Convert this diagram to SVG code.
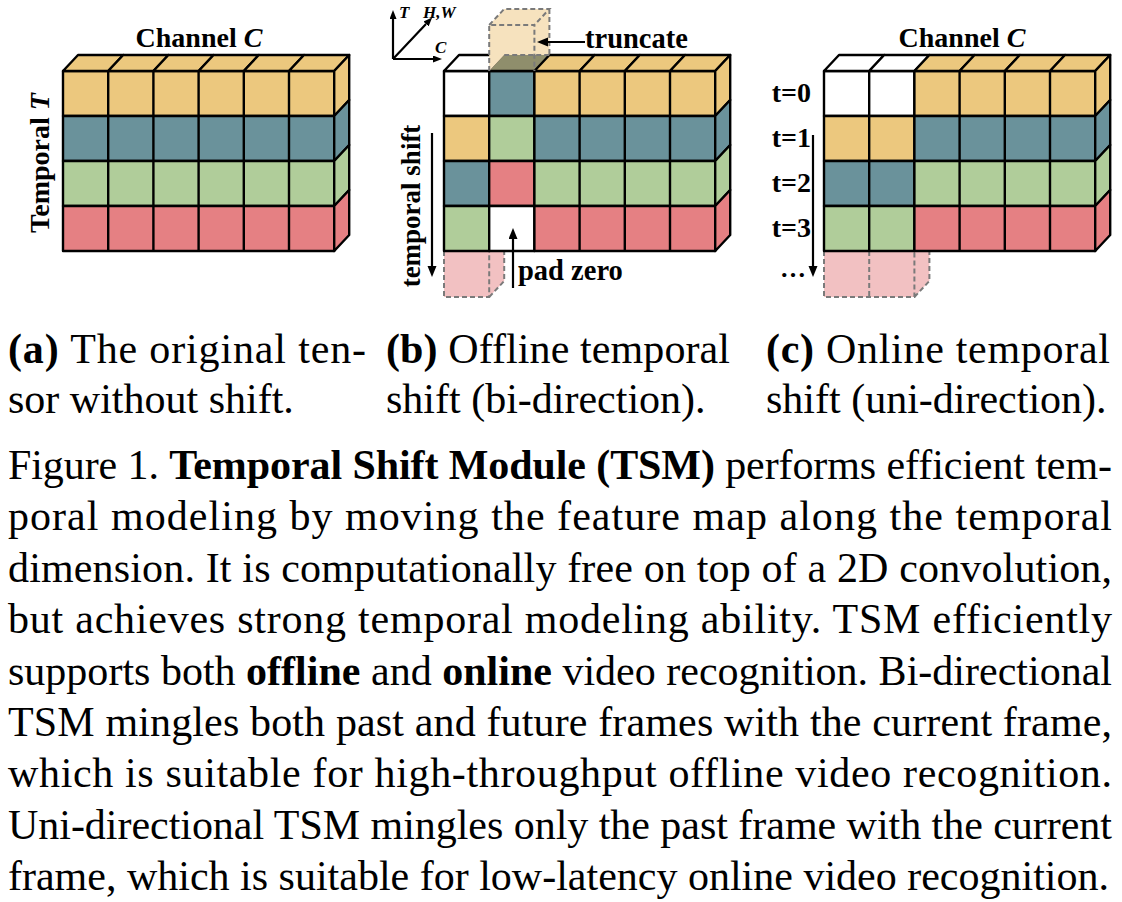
<svg xmlns="http://www.w3.org/2000/svg" width="1122" height="902" viewBox="0 0 1122 902">
<style>
.e{stroke:#000;stroke-width:2.4;stroke-linejoin:round}
.y{fill:#ECC87E}.tl{fill:#6A929B}.g{fill:#B0CD9A}.r{fill:#E58083}.w{fill:#fff}
.gl{fill:none;stroke:#000;stroke-width:2.4}
.d{fill:none;stroke:#7a7a7a;stroke-width:2;stroke-dasharray:5 3}
.pk{fill:#F2C1C2}
.ly{fill:#F6E2BE}
.ol{fill:#8F8E6C}
.lbl{font-family:"Liberation Serif","Times New Roman",serif;font-weight:bold;fill:#000}
.cap{font-family:"Liberation Serif","Times New Roman",serif;font-size:42px;fill:#000}
.ar{stroke:#000;stroke-width:2.2;fill:none}
</style>
<defs>
<marker id="ah" markerUnits="userSpaceOnUse" markerWidth="12" markerHeight="10" refX="0" refY="4.5" orient="auto">
<path d="M0,0 L11,4.5 L0,9 z" fill="#000"/>
</marker>
<marker id="ahs" markerUnits="userSpaceOnUse" markerWidth="10" markerHeight="8" refX="0" refY="3.5" orient="auto">
<path d="M0,0 L9,3.5 L0,7 z" fill="#000"/>
</marker>
</defs>

<g id="panel-a" transform="translate(63,71)">
<g id="a-front">
<rect class="e y" x="0" y="0" width="271.2" height="45"/>
<rect class="e tl" x="0" y="45" width="271.2" height="45"/>
<rect class="e g" x="0" y="90" width="271.2" height="45"/>
<rect class="e r" x="0" y="135" width="271.2" height="45"/>
<path class="gl" d="M45.2,0V180M90.4,0V180M135.6,0V180M180.8,0V180M226,0V180"/>
</g>
<g id="a-top">
<polygon class="e y" points="0,0 15,-16 60.2,-16 45.2,0"/>
<polygon class="e y" points="45.2,0 60.2,-16 105.4,-16 90.4,0"/>
<polygon class="e y" points="90.4,0 105.4,-16 150.6,-16 135.6,0"/>
<polygon class="e y" points="135.6,0 150.6,-16 195.8,-16 180.8,0"/>
<polygon class="e y" points="180.8,0 195.8,-16 241,-16 226,0"/>
<polygon class="e y" points="226,0 241,-16 286.2,-16 271.2,0"/>
</g>
<g id="a-side">
<polygon class="e y" points="271.2,0 286.2,-16 286.2,29 271.2,45"/>
<polygon class="e tl" points="271.2,45 286.2,29 286.2,74 271.2,90"/>
<polygon class="e g" points="271.2,90 286.2,74 286.2,119 271.2,135"/>
<polygon class="e r" points="271.2,135 286.2,119 286.2,164 271.2,180"/>
</g>
</g>
<g id="label-a">
<text class="lbl" x="199" y="47" font-size="28" text-anchor="middle">Channel <tspan font-style="italic">C</tspan></text>
<text class="lbl" font-size="28" text-anchor="middle" transform="translate(49,163) rotate(-90)">Temporal <tspan font-style="italic">T</tspan></text>
</g>

<g id="panel-b" transform="translate(444,71)">
<g id="b-pad">
<polygon class="pk" points="0,180 60.2,180 60.2,210 45.2,226 0,226"/>
<path class="d" d="M0,180V226H45.2V180M45.2,226L60.2,210V180"/>
</g>
<g id="b-front">
<rect class="e w" x="0" y="0" width="45.2" height="45"/>
<rect class="e tl" x="45.2" y="0" width="45.2" height="45"/>
<rect class="e y" x="90.4" y="0" width="180.8" height="45"/>
<rect class="e y" x="0" y="45" width="45.2" height="45"/>
<rect class="e g" x="45.2" y="45" width="45.2" height="45"/>
<rect class="e tl" x="90.4" y="45" width="180.8" height="45"/>
<rect class="e tl" x="0" y="90" width="45.2" height="45"/>
<rect class="e r" x="45.2" y="90" width="45.2" height="45"/>
<rect class="e g" x="90.4" y="90" width="180.8" height="45"/>
<rect class="e g" x="0" y="135" width="45.2" height="45"/>
<rect class="e w" x="45.2" y="135" width="45.2" height="45"/>
<rect class="e r" x="90.4" y="135" width="180.8" height="45"/>
<path class="gl" d="M135.6,0V180M180.8,0V180M226,0V180"/>
</g>
<g id="b-top">
<polygon class="e w" points="0,0 15,-16 60.2,-16 45.2,0"/>
<polygon class="ol" points="45.2,0 60.2,-16 105.4,-16 90.4,0"/>
<polygon class="e y" points="90.4,0 105.4,-16 150.6,-16 135.6,0"/>
<polygon class="e y" points="135.6,0 150.6,-16 195.8,-16 180.8,0"/>
<polygon class="e y" points="180.8,0 195.8,-16 241,-16 226,0"/>
<polygon class="e y" points="226,0 241,-16 286.2,-16 271.2,0"/>
<path class="gl" d="M45.2,0H90.4"/>
</g>
<g id="b-side">
<polygon class="e y" points="271.2,0 286.2,-16 286.2,29 271.2,45"/>
<polygon class="e tl" points="271.2,45 286.2,29 286.2,74 271.2,90"/>
<polygon class="e g" points="271.2,90 286.2,74 286.2,119 271.2,135"/>
<polygon class="e r" points="271.2,135 286.2,119 286.2,164 271.2,180"/>
</g>
<g id="b-truncate">
<polygon class="ly" points="45.2,0 45.2,-46 60.2,-62 105.4,-62 105.4,-16 60.2,-16 45.2,0"/>
<path class="d" d="M45.2,0V-46H90.4V0M45.2,-46L60.2,-62H105.4L90.4,-46M105.4,-62V-16M60.2,-16H105.4"/>
</g>
</g>
<g id="label-b">
<text class="lbl" x="399" y="18" font-size="17" font-style="italic">T</text>
<text class="lbl" x="423" y="18" font-size="17" font-style="italic">H,W</text>
<text class="lbl" x="435" y="53" font-size="17" font-style="italic">C</text>
<text class="lbl" x="585" y="48" font-size="28.5">truncate</text>
<text class="lbl" font-size="27" text-anchor="middle" transform="translate(420,206) rotate(-90)">temporal shift</text>
<text class="lbl" x="518" y="280" font-size="28.5">pad zero</text>
</g>

<g id="panel-c" transform="translate(824,71)">
<g id="c-pad">
<polygon class="pk" points="0,180 105.4,180 105.4,210 90.4,226 0,226"/>
<path class="d" d="M0,180V226H90.4V180M45.2,180V226M90.4,226L105.4,210V180"/>
</g>
<g id="c-front">
<rect class="e w" x="0" y="0" width="90.4" height="45"/>
<rect class="e y" x="90.4" y="0" width="180.8" height="45"/>
<rect class="e y" x="0" y="45" width="90.4" height="45"/>
<rect class="e tl" x="90.4" y="45" width="180.8" height="45"/>
<rect class="e tl" x="0" y="90" width="90.4" height="45"/>
<rect class="e g" x="90.4" y="90" width="180.8" height="45"/>
<rect class="e g" x="0" y="135" width="90.4" height="45"/>
<rect class="e r" x="90.4" y="135" width="180.8" height="45"/>
<path class="gl" d="M45.2,0V180M135.6,0V180M180.8,0V180M226,0V180"/>
</g>
<g id="c-top">
<polygon class="e w" points="0,0 15,-16 60.2,-16 45.2,0"/>
<polygon class="e w" points="45.2,0 60.2,-16 105.4,-16 90.4,0"/>
<polygon class="e y" points="90.4,0 105.4,-16 150.6,-16 135.6,0"/>
<polygon class="e y" points="135.6,0 150.6,-16 195.8,-16 180.8,0"/>
<polygon class="e y" points="180.8,0 195.8,-16 241,-16 226,0"/>
<polygon class="e y" points="226,0 241,-16 286.2,-16 271.2,0"/>
</g>
<g id="c-side">
<polygon class="e y" points="271.2,0 286.2,-16 286.2,29 271.2,45"/>
<polygon class="e tl" points="271.2,45 286.2,29 286.2,74 271.2,90"/>
<polygon class="e g" points="271.2,90 286.2,74 286.2,119 271.2,135"/>
<polygon class="e r" points="271.2,135 286.2,119 286.2,164 271.2,180"/>
</g>
</g>
<g id="label-c">
<text class="lbl" x="962" y="47" font-size="28" text-anchor="middle">Channel <tspan font-style="italic">C</tspan></text>
<text class="lbl" x="811" y="102" font-size="28" text-anchor="end">t=0</text>
<text class="lbl" x="811" y="147" font-size="28" text-anchor="end">t=1</text>
<text class="lbl" x="811" y="192" font-size="28" text-anchor="end">t=2</text>
<text class="lbl" x="811" y="237" font-size="28" text-anchor="end">t=3</text>
<text class="lbl" x="780" y="277" font-size="26" font-weight="normal">…</text>
</g>

<g id="connectors">
<line class="ar" x1="393" y1="59" x2="393" y2="19" marker-end="url(#ahs)"/>
<line class="ar" x1="393" y1="59" x2="433" y2="59" marker-end="url(#ahs)"/>
<line class="ar" x1="393" y1="59" x2="426" y2="24" marker-end="url(#ahs)"/>
<line class="ar" x1="585" y1="42" x2="548" y2="42" marker-end="url(#ah)"/>
<line class="ar" x1="432" y1="133" x2="432" y2="266" marker-end="url(#ah)"/>
<line class="ar" x1="513" y1="288" x2="513" y2="239" marker-end="url(#ah)"/>
<line class="ar" x1="813" y1="135" x2="813" y2="266" marker-end="url(#ah)"/>
</g>

<g id="subcaptions">
<text class="cap" x="8" y="363" textLength="358" lengthAdjust="spacing"><tspan font-weight="bold">(a)</tspan> The original ten-</text>
<text class="cap" x="8" y="413">sor without shift.</text>
<text class="cap" x="386" y="363" textLength="344" lengthAdjust="spacing"><tspan font-weight="bold">(b)</tspan> Offline temporal</text>
<text class="cap" x="386" y="413">shift (bi-direction).</text>
<text class="cap" x="766" y="363" textLength="344" lengthAdjust="spacing"><tspan font-weight="bold">(c)</tspan> Online temporal</text>
<text class="cap" x="766" y="413">shift (uni-direction).</text>
</g>

<g id="caption">
<text class="cap" x="8" y="479" textLength="1104" lengthAdjust="spacing">Figure 1. <tspan font-weight="bold">Temporal Shift Module (TSM)</tspan> performs efficient tem-</text>
<text class="cap" x="8" y="530" textLength="1104" lengthAdjust="spacing">poral modeling by moving the feature map along the temporal</text>
<text class="cap" x="8" y="581.5" textLength="1104" lengthAdjust="spacing">dimension. It is computationally free on top of a 2D convolution,</text>
<text class="cap" x="8" y="633" textLength="1104" lengthAdjust="spacing">but achieves strong temporal modeling ability. TSM efficiently</text>
<text class="cap" x="8" y="684.5" textLength="1104" lengthAdjust="spacing">supports both <tspan font-weight="bold">offline</tspan> and <tspan font-weight="bold">online</tspan> video recognition. Bi-directional</text>
<text class="cap" x="8" y="736" textLength="1104" lengthAdjust="spacing">TSM mingles both past and future frames with the current frame,</text>
<text class="cap" x="8" y="787" textLength="1104" lengthAdjust="spacing">which is suitable for high-throughput offline video recognition.</text>
<text class="cap" x="8" y="838.5" textLength="1104" lengthAdjust="spacing">Uni-directional TSM mingles only the past frame with the current</text>
<text class="cap" x="8" y="890">frame, which is suitable for low-latency online video recognition.</text>
</g>
</svg>
